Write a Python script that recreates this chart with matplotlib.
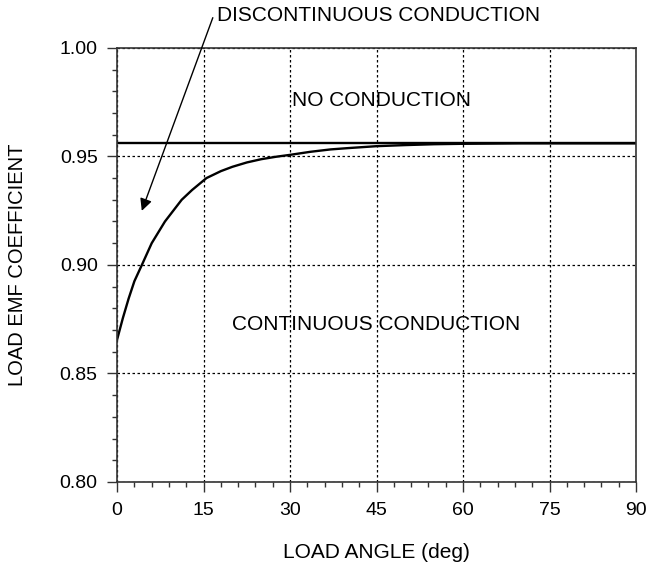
import matplotlib
matplotlib.use("Agg")
import matplotlib.pyplot as plt
from matplotlib.ticker import MultipleLocator

plt.rcParams['font.family'] = ['Liberation Sans', 'DejaVu Sans']

# Curve (load angle in deg, emf coefficient)
angle = [0, 1, 2, 3, 4.3, 6, 8.3, 11.2, 13, 15.5, 18, 20, 22.5, 25, 27.5,
         30, 33.5, 37, 40, 45, 50, 55, 60, 70, 80, 90]
coeff = [0.8656, 0.8755, 0.8845, 0.8925, 0.900, 0.910, 0.920, 0.930, 0.9345,
         0.940, 0.9432, 0.9452, 0.9472, 0.9487, 0.9498, 0.9507, 0.9521, 0.9532,
         0.9538, 0.9547, 0.9552, 0.9556, 0.9558, 0.9560, 0.9560, 0.9560]
limit = 0.956

x_ticks = [0, 15, 30, 45, 60, 75, 90]
y_ticks = [0.80, 0.85, 0.90, 0.95, 1.00]

fig = plt.figure(figsize=(6.47, 5.63), dpi=100)
ax = fig.add_axes([0.181, 0.144, 0.802, 0.771])

ax.plot(angle, coeff, color="black", lw=1.7)
ax.axhline(limit, color="black", lw=1.7)

ax.set_xlim(0, 90)
ax.set_ylim(0.80, 1.00)
ax.set_xticks(x_ticks)
ax.set_yticks(y_ticks)
ax.set_yticklabels([f"{v:.2f}" for v in y_ticks])
ax.xaxis.set_minor_locator(MultipleLocator(3))
ax.yaxis.set_minor_locator(MultipleLocator(0.01))
ax.tick_params(which="major", direction="out", length=7.5, width=1,
               labelsize=14, color="#333333")
ax.tick_params(axis="x", which="major", pad=7)
ax.tick_params(axis="y", which="major", pad=6.5)
ax.tick_params(which="minor", direction="out", length=3.5, width=1, color="#333333")
ax.grid(True, which="major", linestyle=(0, (2, 2)), color="black", lw=0.9)
for s in ax.spines.values():
    s.set_linewidth(1.2)
    s.set_color("#333333")

ax.set_xlabel("LOAD ANGLE (deg)", fontsize=15, va="center")
ax.xaxis.set_label_coords(0.5, -0.1636)
ax.set_ylabel("LOAD EMF COEFFICIENT", fontsize=14.5, va="center")
ax.yaxis.set_label_coords(-0.1917, 0.5)

ax.text(45.8, 0.9733, "NO CONDUCTION", ha="center", va="baseline", fontsize=15)
ax.text(44.9, 0.8702, "CONTINUOUS CONDUCTION", ha="center", va="baseline", fontsize=15)
ax.text(17.3, 1.0125, "DISCONTINUOUS CONDUCTION", ha="left", va="baseline",
        fontsize=15, clip_on=False)
ax.annotate("", xy=(4.28, 0.9249), xytext=(16.6, 1.0139), annotation_clip=False,
            arrowprops=dict(arrowstyle="-|>", color="black", lw=1,
                            shrinkA=0, shrinkB=0, mutation_scale=18))

fig.savefig("out.png", dpi=100)
